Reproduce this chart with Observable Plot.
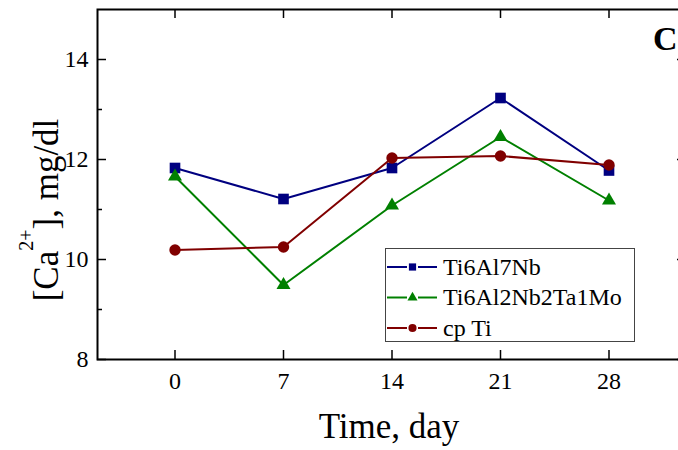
<!DOCTYPE html>
<html>
<head>
<meta charset="utf-8">
<script src="https://cdn.jsdelivr.net/npm/d3@7"></script>
<script src="https://cdn.jsdelivr.net/npm/@observablehq/plot@0.6"></script>
<style>
  html, body { margin: 0; padding: 0; background: white; overflow: hidden; }
</style>
</head>
<body>
<script>
const days = [0, 7, 14, 21, 28];
const ti6al7nb = [11.83, 11.21, 11.83, 13.23, 11.78];
const ti6al2nb2ta1mo = [11.66, 9.49, 11.08, 12.45, 11.18];
const cpTi = [10.19, 10.25, 12.03, 12.07, 11.89];
const seriesNames = ["Ti6Al7Nb", "Ti6Al2Nb2Ta1Mo", "cp Ti"];
const seriesColors = ["#000080", "#008000", "#800000"];
const seriesSymbols = ["square", "triangle", "circle"];
const xTicks = [0, 7, 14, 21, 28];
const yTicks = [8, 10, 12, 14];
const yMinorTicks = [9, 11, 13];
const xLabel = "Time, day";
const panelLabel = "C";

const seriesValues = [ti6al7nb, ti6al2nb2ta1mo, cpTi];
const rows = [];
seriesNames.forEach((s, i) => days.forEach((d, j) => rows.push({series: s, day: d, value: seriesValues[i][j]})));

const W = 678, H = 450;
const mL = 97, mR = -8, mT = 9, mB = 91;
const fw = W - mL - mR, fh = H - mT - mB;
const font = "'Liberation Serif', 'Times New Roman', serif";

const marks = [
  Plot.frame({stroke: "black", strokeWidth: 2}),
  Plot.tickX(xTicks, {x: d => d, insetTop: fh - 9, stroke: "black", strokeWidth: 1.5}),
  Plot.tickX(xTicks, {x: d => d, insetBottom: fh - 9, stroke: "black", strokeWidth: 1.5}),
  Plot.tickY(yTicks, {y: d => d, insetRight: fw - 9, stroke: "black", strokeWidth: 1.5}),
  Plot.tickY(yTicks, {y: d => d, insetLeft: fw - 9, stroke: "black", strokeWidth: 1.5}),
  Plot.tickY(yMinorTicks, {y: d => d, insetRight: fw - 5, stroke: "black", strokeWidth: 1.5}),
  Plot.tickY(yMinorTicks, {y: d => d, insetLeft: fw - 5, stroke: "black", strokeWidth: 1.5}),
  Plot.axisX(xTicks, {tickSize: 0, tickPadding: 12, label: null, fontSize: 24, fill: "black", tickFormat: d => String(d)}),
  Plot.axisY(yTicks, {tickSize: 0, tickPadding: 9, label: null, fontSize: 24, fill: "black", tickFormat: d => String(d)})
];
const radii = {square: 6, triangle: 5.2, circle: 5.7};
seriesNames.forEach((s, i) => {
  const data = rows.filter(r => r.series === s);
  marks.push(Plot.line(data, {x: "day", y: "value", stroke: seriesColors[i], strokeWidth: 2}));
  marks.push(Plot.dot(data, {x: "day", y: "value", symbol: seriesSymbols[i], fill: seriesColors[i], r: radii[seriesSymbols[i]], stroke: "none"}));
});

const chart = Plot.plot({
  width: W, height: H,
  marginLeft: mL, marginRight: mR, marginTop: mT, marginBottom: mB,
  style: {fontFamily: font, fontSize: "24px", color: "black", background: "white", overflow: "visible"},
  x: {domain: [-5, 33]},
  y: {domain: [8, 15]},
  marks
});
document.body.append(chart);

const svg = d3.select(chart);
svg.selectAll("g[aria-label='x-axis tick label'] text, g[aria-label='y-axis tick label'] text")
  .attr("font-size", 24).style("font-size", "24px");
svg.selectAll("g[aria-label='x-axis tick label'], g[aria-label='y-axis tick label']")
  .attr("font-size", 24).style("font-size", "24px");
// y-axis title
const yt = svg.append("text")
  .attr("transform", "translate(58,210) rotate(-90)")
  .attr("text-anchor", "middle")
  .attr("font-family", font).attr("font-size", 35).attr("fill", "black");
yt.append("tspan").text("[Ca");
yt.append("tspan").attr("font-size", 20).attr("dy", -25).text("2+");
yt.append("tspan").attr("dy", 25).text("], mg/dl");
// x-axis title
svg.append("text").attr("x", 389).attr("y", 438).attr("text-anchor", "middle")
  .attr("font-family", font).attr("font-size", 35).attr("fill", "black").text(xLabel);
// panel label
svg.append("text").attr("x", 653).attr("y", 50).attr("text-anchor", "start").attr("font-family", font)
  .attr("font-size", 34).attr("font-weight", "bold").attr("fill", "black").text(panelLabel);
// legend
const lg = svg.append("g");
lg.append("rect").attr("x", 385.5).attr("y", 248.5).attr("width", 249).attr("height", 93)
  .attr("fill", "white").attr("stroke", "#444").attr("stroke-width", 1);
const symMap = {square: d3.symbolSquare, triangle: d3.symbolTriangle, circle: d3.symbolCircle};
const legSizes = {square: 52, triangle: 44, circle: 52};
seriesNames.forEach((s, i) => {
  const y = 267 + i * 30.5;
  lg.append("line").attr("x1", 387).attr("x2", 407).attr("y1", y).attr("y2", y)
    .attr("stroke", seriesColors[i]).attr("stroke-width", 2);
  lg.append("line").attr("x1", 418).attr("x2", 437).attr("y1", y).attr("y2", y)
    .attr("stroke", seriesColors[i]).attr("stroke-width", 2);
  lg.append("path").attr("transform", `translate(412.5,${y})`)
    .attr("d", d3.symbol(symMap[seriesSymbols[i]], legSizes[seriesSymbols[i]])())
    .attr("fill", seriesColors[i]);
  lg.append("text").attr("x", 443).attr("y", y).attr("dy", "0.33em").attr("text-anchor", "start")
    .attr("font-family", font).attr("font-size", 24).attr("fill", "black").text(s);
});
</script>
</body>
</html>
